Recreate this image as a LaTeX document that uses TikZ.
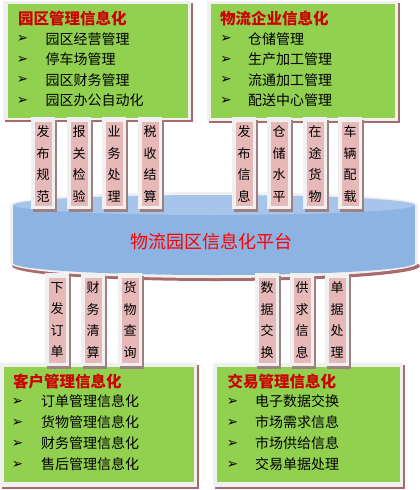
\documentclass[tikz,border=0pt]{standalone}
\usepackage{fontspec}
\newfontfamily\cjk{Noto Sans CJK SC}
\newfontfamily\dingfont{DejaVu Sans}
\definecolor{boxgreen}{HTML}{92D050}
\definecolor{framegray}{HTML}{F0F0F0}
\definecolor{pillarpink}{HTML}{E6B9B8}
\definecolor{shadowred}{HTML}{A86A6A}
\definecolor{pillarshadow}{HTML}{9E8080}
\definecolor{cyltop}{HTML}{A7C5EA}
\definecolor{cylbody}{HTML}{8DB3E2}
\definecolor{titlered}{HTML}{CC0000}
\definecolor{platred}{HTML}{FF0000}
\begin{document}
\begin{tikzpicture}[x=1pt,y=-1pt,
  boxtitle/.style={anchor=west,inner sep=0pt,text=titlered,font=\cjk\bfseries\fontsize{15.5}{16}\selectfont},
  boxitem/.style={anchor=west,inner sep=0pt,font=\cjk\fontsize{14}{15}\selectfont},
  bullet/.style={anchor=center,inner sep=0pt,font=\dingfont\bfseries\fontsize{13.5}{14}\selectfont},
  pillartext/.style={anchor=center,inner sep=0pt,align=center,font=\cjk\fontsize{13}{21.5}\selectfont},
  plattext/.style={anchor=center,inner sep=0pt,text=platred,font=\cjk\fontsize{18}{19}\selectfont}]
\useasboundingbox (0,0) rectangle (420,490);
% ---------- boxes ----------
% top-left
\fill[shadowred] (5,3) rectangle (193,122);
\fill[framegray] (3,1) rectangle (191,120);
\fill[boxgreen] (8,4) rectangle (188,118);
% top-right
\fill[shadowred] (209,3) rectangle (400,123);
\fill[framegray] (207,1) rectangle (398,121);
\fill[boxgreen] (211,4) rectangle (395,118);
% bottom-left
\fill[shadowred] (2,365) rectangle (199,489);
\fill[framegray] (0,363) rectangle (197,487);
\fill[boxgreen] (4,367) rectangle (194,482);
% bottom-right
\fill[shadowred] (215,365) rectangle (405,489);
\fill[framegray] (213,363) rectangle (403,487);
\fill[boxgreen] (217,367) rectangle (400,482);
% box texts
\node[boxtitle] (t1) at (18,18.5) {园区管理信息化};
\node[bullet] (b11) at (22.5,39) {➢};
\node[bullet] (b12) at (22.5,59.5) {➢};
\node[bullet] (b13) at (22.5,80) {➢};
\node[bullet] (b14) at (22.5,100.5) {➢};
\node[boxitem] (i11) at (45.5,39) {园区经营管理};
\node[boxitem] (i12) at (45.5,59.5) {停车场管理};
\node[boxitem] (i13) at (45.5,80) {园区财务管理};
\node[boxitem] (i14) at (45.5,100.5) {园区办公自动化};
\node[boxtitle] (t2) at (220,18.5) {物流企业信息化};
\node[bullet] (b21) at (226,39) {➢};
\node[bullet] (b22) at (226,59.5) {➢};
\node[bullet] (b23) at (226,80) {➢};
\node[bullet] (b24) at (226,100.5) {➢};
\node[boxitem] (i21) at (248,39) {仓储管理};
\node[boxitem] (i22) at (248,59.5) {生产加工管理};
\node[boxitem] (i23) at (248,80) {流通加工管理};
\node[boxitem] (i24) at (248,100.5) {配送中心管理};
\node[boxtitle] (t3) at (13,381.5) {客户管理信息化};
\node[bullet] (b31) at (17.5,401.5) {➢};
\node[bullet] (b32) at (17.5,422.5) {➢};
\node[bullet] (b33) at (17.5,443.5) {➢};
\node[bullet] (b34) at (17.5,464.5) {➢};
\node[boxitem] (i31) at (41,401.5) {订单管理信息化};
\node[boxitem] (i32) at (41,422.5) {货物管理信息化};
\node[boxitem] (i33) at (41,443.5) {财务管理信息化};
\node[boxitem] (i34) at (41,464.5) {售后管理信息化};
\node[boxtitle] (t4) at (227.5,381.5) {交易管理信息化};
\node[bullet] (b41) at (232.5,401.5) {➢};
\node[bullet] (b42) at (232.5,422.5) {➢};
\node[bullet] (b43) at (232.5,443.5) {➢};
\node[bullet] (b44) at (232.5,464.5) {➢};
\node[boxitem] (i41) at (255,401.5) {电子数据交换};
\node[boxitem] (i42) at (255,422.5) {市场需求信息};
\node[boxitem] (i43) at (255,443.5) {市场供给信息};
\node[boxitem] (i44) at (255,464.5) {交易单据处理};
% ---------- cylinder ----------
\fill[shadowred] (216,266) ellipse [x radius=204, y radius=15];
\fill[framegray] (10,205) rectangle (418,263);
\fill[framegray] (214,263) ellipse [x radius=204, y radius=15];
\fill[framegray] (214,205) ellipse [x radius=204, y radius=13];
\fill[cylbody] (13,205) rectangle (415,263);
\fill[cylbody] (214,263) ellipse [x radius=201, y radius=12];
\fill[cyltop] (214,205) ellipse [x radius=201, y radius=10];
% ---------- pillars ----------
\foreach \px/\nm/\txt in {43/p1/{发\\布\\规\\范},79/p2/{报\\关\\检\\验},114/p3/{业\\务\\处\\理},150/p4/{税\\收\\结\\算},
  244/p5/{发\\布\\信\\息},279/p6/{仓\\储\\水\\平},315/p7/{在\\途\\货\\物},350/p8/{车\\辆\\配\\载}}{
  \fill[pillarshadow] (\px-10,120) rectangle (\px+14,212);
  \fill[framegray] (\px-12,117) rectangle (\px+12,209);
  \fill[pillarpink] (\px-8.5,122) rectangle (\px+8.5,206);
  \node[pillartext] (\nm) at (\px,164) {\txt};
}
\foreach \px/\nm/\txt in {57/q1/{下\\发\\订\\单},93/q2/{财\\务\\清\\算},130/q3/{货\\物\\查\\询},
  267/q4/{数\\据\\交\\换},302/q5/{供\\求\\信\\息},337/q6/{单\\据\\处\\理}}{
  \fill[pillarshadow] (\px-10,276) rectangle (\px+14,369);
  \fill[framegray] (\px-12,273) rectangle (\px+12,366);
  \fill[pillarpink] (\px-8.5,278) rectangle (\px+8.5,363);
  \node[pillartext] (\nm) at (\px,320) {\txt};
}
\node[plattext] (plat) at (211,242) {物流园区信息化平台};
\end{tikzpicture}
\end{document}
